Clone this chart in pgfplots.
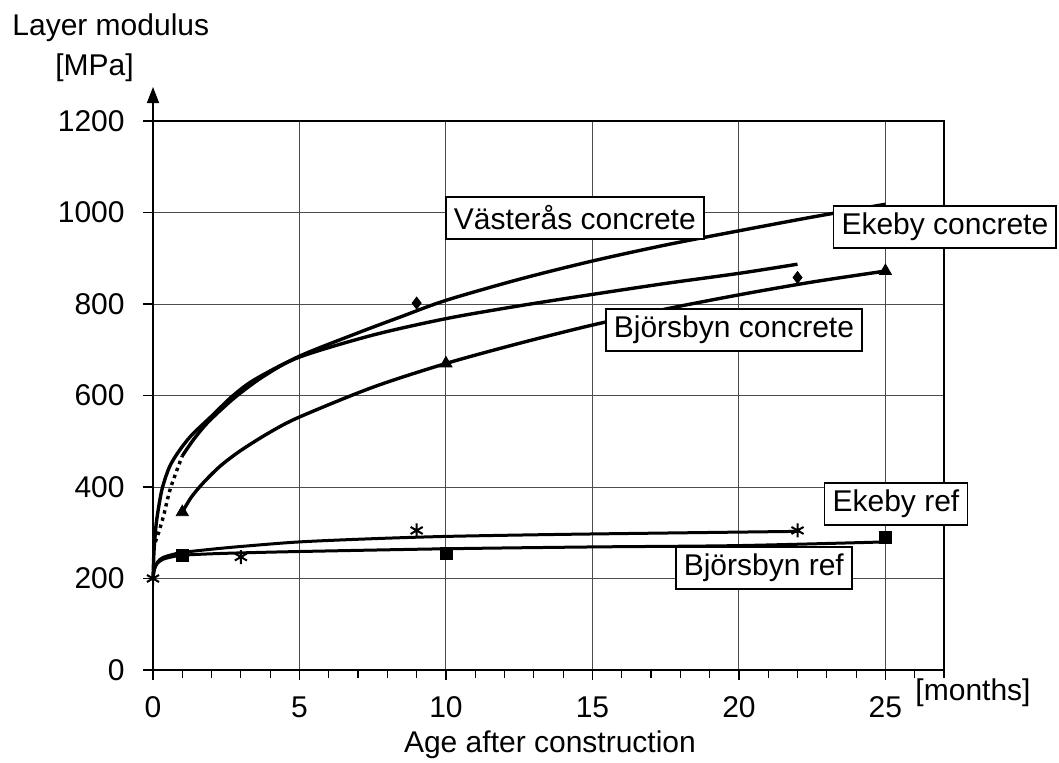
\documentclass[border=0pt]{standalone}
\usepackage{fontspec}
\setmainfont{Liberation Sans}
\usepackage{pgfplots}
\pgfplotsset{compat=1.18}
\usetikzlibrary{arrows.meta}
\tikzset{
  lbox/.style={draw, fill=white, line width=0.8pt, inner xsep=4pt, inner ysep=0pt,
     minimum height=21pt, anchor=center, font=\fontsize{15}{18}\selectfont},
  curve/.style={black, line width=1.7pt, smooth},
}

\begin{document}
\fontsize{15}{18}\selectfont
\begin{tikzpicture}[x=1pt,y=1pt]
\path[use as bounding box] (0,0) rectangle (529.5,381);
\begin{axis}[
  at={(76.5pt,46pt)}, anchor=south west,
  scale only axis, width=395.5pt, height=274.5pt,
  xmin=0, xmax=27, ymin=0, ymax=1200,
  xtick={0,5,...,25}, ytick={0,200,...,1200},
  minor xtick={1,2,...,27},
  tick align=outside, xtick pos=bottom, ytick pos=left,
  major tick length=5pt, minor tick length=4pt,
  grid=major, major grid style={black!70, line width=0.5pt},
  axis line style={line width=0.8pt},
  every tick/.style={black, line width=0.6pt},
  clip=false,
  ticklabel style={font=\fontsize{15}{18}\selectfont},
  xticklabel style={yshift=-3pt},
  yticklabel style={xshift=-4pt},
  /pgf/number format/assume math mode=true,
  scaled ticks=false, /pgf/number format/1000 sep={},
]
% top concrete curve
\addplot[curve, no marks] coordinates {
 (0,200) (0.03,255) (0.07,292) (0.13,330) (0.3,393) (0.55,442) (0.85,475) (1.3,512)
 (2.05,558) (2.7,598) (3.45,634) (5,686) (7,737) (8.5,773) (10,808) (12.5,854)
 (15,894) (17.5,929) (20,960) (22.5,990) (25,1018)};
% middle concrete curve: dotted start, solid rest
\addplot[black, line width=1.7pt, dotted, smooth, no marks] coordinates {
 (0.08,280) (0.19,300) (0.36,337) (0.6,398) (1.0,468)};
\addplot[curve, no marks] coordinates {
 (1.0,468) (1.4,505) (1.9,543) (2.8,596) (3.8,643) (5,684) (7.5,732) (10,768)
 (12.5,796) (15,821) (17.5,845) (20,867) (22,887)};
% Bjorsbyn concrete
\addplot[curve, no marks] coordinates {
 (1,345) (1.3,377) (1.7,408) (2.3,446) (3,480) (4,520) (5,553) (7.5,618) (10,670)
 (12.5,714) (15,754) (17.5,789) (20,820) (22.5,848) (25,872)};
% Ekeby ref
\addplot[curve, no marks, line width=1.5pt] coordinates {
 (0,200) (0.05,222) (0.15,236) (0.34,246) (0.7,253) (1,257) (2,264) (3,270)
 (5,280) (7.5,287) (10,292) (13.5,296) (17,299) (22,303)};
% Bjorsbyn ref
\addplot[curve, no marks, line width=1.5pt] coordinates {
 (0,200) (0.05,220) (0.15,233) (0.34,242) (0.7,248) (1,251) (2,254) (3,256)
 (5,259) (10,265) (15,269) (20,272) (25,280)};
% markers
\addplot[only marks, mark=triangle*, mark size=3.5pt, black] coordinates {(1,345) (10,670) (25,872)};
\addplot[only marks, mark=diamond*, mark size=3pt, black] coordinates {(9,802) (22,858)};
\addplot[only marks, mark=asterisk, mark size=3.5pt, black, mark options={line width=1pt}] coordinates {(0,200) (3,247) (9,305) (22,305)};
\addplot[only marks, mark=square*, mark size=3pt, black] coordinates {(1,251) (10,254) (25,290)};
% y-axis arrow
\draw[line width=0.8pt, -{Triangle[length=8pt,width=6pt]}] (rel axis cs:0,1) -- ++(0,17pt);
% labels
\node[lbox] at (axis cs:14.40,988) {Västerås concrete};
\node[lbox] at (axis cs:27.03,968) {Ekeby concrete};
\node[lbox] at (axis cs:19.83,743) {Björsbyn concrete};
\node[lbox] at (axis cs:25.36,363) {Ekeby ref};
\node[lbox] at (axis cs:20.85,223) {Björsbyn ref};
\node[anchor=center, font=\fontsize{15}{18}\selectfont] at (axis cs:27.99,-50) {[months]};
\node[anchor=center, font=\fontsize{15}{18}\selectfont] at (axis cs:13.55,-164) {Age after construction};
\end{axis}
\node[anchor=base west, inner sep=0pt] at (6,363) {Layer modulus};
\node[anchor=base west, inner sep=0pt] at (27.5,343) {[MPa]};
\end{tikzpicture}
\end{document}
